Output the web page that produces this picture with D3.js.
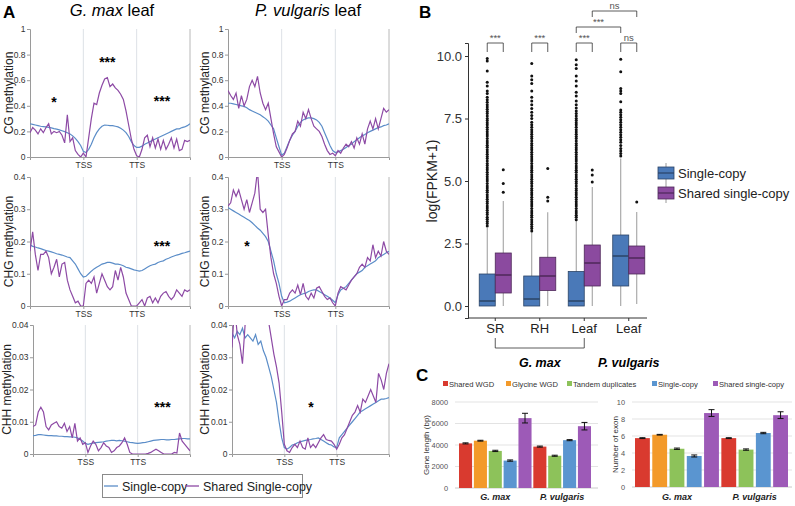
<!DOCTYPE html>
<html>
<head>
<meta charset="utf-8">
<script src="https://cdn.jsdelivr.net/npm/d3@7"></script>
<style>
  body { margin: 0; background: #fff; }
  svg { font-family: "Liberation Sans", Arial, sans-serif; }
</style>
</head>
<body>
<svg id="fig" width="795" height="506"></svg>
<script>
// ---------------------------------------------------------------- panel A data
// bins: 20 upstream, 20 gene body, 20 downstream (TSS at 20, TTS at 40)
const cgMaxSingle = [0.26,0.255,0.25,0.245,0.24,0.238,0.235,0.232,0.228,0.222,0.218,0.212,0.205,0.198,0.19,0.18,0.165,0.145,0.12,0.09,0.045,0.035,0.06,0.1,0.15,0.19,0.22,0.24,0.25,0.248,0.245,0.245,0.24,0.235,0.225,0.21,0.19,0.16,0.12,0.09,0.075,0.075,0.085,0.1,0.11,0.12,0.13,0.14,0.15,0.16,0.17,0.18,0.19,0.2,0.21,0.22,0.22,0.23,0.235,0.245,0.26];
const cgMaxShared = [0.19,0.23,0.21,0.18,0.22,0.19,0.23,0.26,0.18,0.2,0.19,0.2,0.17,0.11,0.33,0.12,0.15,0.05,0.02,0.0,0.03,0.0,0.15,0.3,0.42,0.41,0.5,0.56,0.61,0.62,0.55,0.57,0.54,0.52,0.49,0.45,0.36,0.25,0.14,0.06,0.01,0.0,0.06,0.15,0.17,0.08,0.15,0.07,0.14,0.06,0.13,0.06,0.1,0.15,0.07,0.14,0.05,0.06,0.13,0.12,0.13];
const cgVulSingle = [0.42,0.42,0.415,0.41,0.405,0.4,0.395,0.385,0.37,0.36,0.35,0.34,0.33,0.315,0.3,0.28,0.25,0.22,0.15,0.08,0.015,0.03,0.08,0.13,0.17,0.2,0.24,0.27,0.29,0.3,0.305,0.305,0.3,0.29,0.27,0.24,0.19,0.14,0.09,0.05,0.035,0.04,0.05,0.06,0.075,0.09,0.1,0.12,0.135,0.15,0.165,0.175,0.19,0.2,0.21,0.22,0.23,0.235,0.245,0.25,0.26];
const cgVulShared = [0.52,0.48,0.45,0.5,0.38,0.48,0.4,0.45,0.55,0.6,0.55,0.63,0.5,0.42,0.37,0.42,0.3,0.18,0.08,0.04,0.0,0.02,0.07,0.13,0.18,0.2,0.28,0.24,0.35,0.3,0.37,0.3,0.24,0.22,0.2,0.16,0.1,0.05,0.02,0.03,0.01,0.05,0.03,0.07,0.1,0.08,0.12,0.07,0.15,0.1,0.18,0.1,0.22,0.28,0.22,0.3,0.22,0.3,0.38,0.35,0.37];
const chgMaxSingle = [0.19,0.185,0.183,0.18,0.178,0.175,0.172,0.17,0.168,0.165,0.162,0.16,0.158,0.155,0.152,0.15,0.14,0.13,0.115,0.1,0.09,0.092,0.1,0.108,0.115,0.12,0.125,0.13,0.132,0.135,0.135,0.133,0.13,0.13,0.128,0.125,0.12,0.118,0.115,0.112,0.11,0.108,0.11,0.115,0.12,0.125,0.128,0.13,0.135,0.138,0.14,0.145,0.148,0.152,0.155,0.158,0.16,0.163,0.165,0.168,0.17];
const chgMaxShared = [0.17,0.23,0.16,0.11,0.16,0.16,0.17,0.15,0.1,0.12,0.145,0.09,0.13,0.135,0.08,0.05,0.03,0.01,0.015,0.0,0.0,0.07,0.08,0.07,0.09,0.04,0.07,0.1,0.08,0.06,0.05,0.06,0.11,0.08,0.12,0.09,0.04,0.02,0.0,0.0,0.0,0.01,0.02,0.0,0.025,0.03,0.01,0.025,0.01,0.03,0.04,0.045,0.03,0.02,0.03,0.05,0.04,0.03,0.05,0.045,0.05];
const chgVulSingle = [0.305,0.3,0.295,0.29,0.285,0.28,0.275,0.27,0.265,0.258,0.25,0.242,0.235,0.225,0.215,0.2,0.17,0.14,0.1,0.07,0.03,0.01,0.012,0.015,0.02,0.025,0.03,0.035,0.038,0.04,0.045,0.048,0.05,0.05,0.045,0.04,0.035,0.03,0.025,0.018,0.01,0.035,0.05,0.055,0.06,0.07,0.08,0.09,0.1,0.105,0.11,0.12,0.125,0.13,0.135,0.14,0.15,0.155,0.16,0.165,0.17];
const chgVulShared = [0.31,0.32,0.36,0.34,0.36,0.33,0.3,0.33,0.29,0.32,0.35,0.42,0.3,0.29,0.3,0.22,0.15,0.1,0.07,0.03,0.0,0.02,0.02,0.04,0.05,0.04,0.065,0.035,0.07,0.03,0.02,0.04,0.025,0.055,0.06,0.045,0.03,0.02,0.025,0.01,0.0,0.04,0.06,0.055,0.05,0.065,0.08,0.09,0.1,0.12,0.13,0.12,0.15,0.14,0.19,0.15,0.17,0.155,0.2,0.17,0.16];
const chhMaxSingle = [0.0057,0.0058,0.006,0.006,0.0059,0.0058,0.0057,0.0057,0.0056,0.0056,0.0055,0.0055,0.0054,0.0054,0.0053,0.0053,0.0052,0.005,0.0045,0.004,0.0033,0.003,0.0032,0.0034,0.0035,0.0036,0.0037,0.0038,0.004,0.0041,0.0042,0.0042,0.0041,0.0042,0.0041,0.004,0.0038,0.0036,0.0035,0.0034,0.0033,0.0034,0.0035,0.0036,0.0038,0.004,0.0042,0.0043,0.0044,0.0045,0.0045,0.0044,0.0044,0.0045,0.0045,0.0046,0.0047,0.0048,0.0048,0.0047,0.0047];
const chhMaxShared = [0.0085,0.009,0.013,0.0145,0.013,0.0085,0.0075,0.009,0.0095,0.01,0.0085,0.008,0.0095,0.007,0.0085,0.005,0.0095,0.004,0.005,0.003,0.0035,0.0005,0.0025,0.004,0.003,0.001,0.002,0.0035,0.0025,0.002,0.0005,0.001,0.002,0.0025,0.0035,0.005,0.003,0.0005,0.0,0.0,0.0,0.0,0.0,0.0,0.0002,0.0005,0.001,0.0015,0.001,0.0005,0.0,0.0,0.0,0.0,0.0005,0.0003,0.0065,0.004,0.003,0.002,0.001];
const chhVulSingle = [0.0375,0.036,0.038,0.037,0.039,0.036,0.037,0.036,0.035,0.037,0.034,0.035,0.032,0.03,0.027,0.024,0.02,0.016,0.01,0.005,0.002,0.0015,0.002,0.0028,0.003,0.0035,0.0038,0.004,0.0042,0.0044,0.0045,0.0047,0.0048,0.005,0.0045,0.004,0.0035,0.003,0.0028,0.0022,0.002,0.005,0.006,0.007,0.008,0.009,0.01,0.011,0.012,0.013,0.0135,0.014,0.0145,0.015,0.0155,0.016,0.0165,0.017,0.017,0.0172,0.0175];
const chhVulShared = [0.033,0.046,0.037,0.034,0.028,0.04,0.045,0.042,0.048,0.044,0.05,0.046,0.048,0.045,0.041,0.036,0.031,0.027,0.022,0.013,0.003,0.001,0.0005,0.002,0.003,0.002,0.004,0.002,0.0015,0.005,0.002,0.003,0.002,0.0035,0.005,0.006,0.0045,0.0042,0.004,0.003,0.0015,0.003,0.005,0.006,0.008,0.01,0.012,0.013,0.015,0.013,0.017,0.016,0.018,0.02,0.018,0.016,0.025,0.023,0.02,0.025,0.028];

// ---------------------------------------------------------------- panel B data
const boxGroups = ["SR", "RH", "LeafG", "LeafP"];
const boxLabels = ["SR", "RH", "Leaf", "Leaf"];
const singleStats = [ // [low, q1, median, q3, high]
  [0, 0, 0.2, 1.28, 3.12],
  [0, 0, 0.28, 1.2, 2.95],
  [0, 0, 0.2, 1.38, 3.4],
  [0, 0.8, 2.0, 2.84, 5.9]
];
const sharedStats = [
  [0, 0.52, 1.24, 2.12, 4.2],
  [0, 0.62, 1.2, 1.95, 3.75],
  [0, 0.8, 1.72, 2.44, 4.76],
  [0.08, 1.28, 1.92, 2.4, 3.76]
];
const singleOutliers = [
  [3.2,3.3,3.38,3.47,3.55,3.66,3.74,3.83,3.92,4.0,4.1,4.18,4.27,4.36,4.45,4.55,4.63,4.72,4.8,4.9,5.0,5.08,5.17,5.26,5.35,5.45,5.53,5.62,5.7,5.8,5.9,5.98,6.07,6.16,6.25,6.35,6.43,6.52,6.6,6.7,6.8,6.88,6.97,7.06,7.15,7.25,7.33,7.42,7.5,7.6,7.7,7.78,7.87,7.96,8.05,8.15,8.25,8.35,8.5,8.6,8.8,8.95,9.4,9.8,9.9],
  [3.0,3.1,3.18,3.27,3.36,3.45,3.55,3.63,3.72,3.8,3.9,4.0,4.08,4.17,4.26,4.35,4.45,4.53,4.62,4.7,4.8,4.9,4.98,5.07,5.16,5.25,5.35,5.43,5.52,5.6,5.7,5.8,5.88,5.97,6.06,6.15,6.25,6.33,6.42,6.5,6.6,6.7,6.78,6.87,6.96,7.05,7.15,7.25,7.35,7.5,7.62,7.75,7.9,8.05,8.2,8.35,8.6,8.9,9.05,9.2,9.7],
  [3.45,3.55,3.63,3.72,3.8,3.9,4.0,4.08,4.17,4.26,4.35,4.45,4.53,4.62,4.7,4.8,4.9,4.98,5.07,5.16,5.25,5.35,5.43,5.52,5.6,5.7,5.8,5.88,5.97,6.06,6.15,6.25,6.33,6.42,6.5,6.6,6.7,6.78,6.87,6.96,7.05,7.15,7.25,7.33,7.42,7.5,7.6,7.7,7.8,7.92,8.05,8.2,8.4,8.55,8.8,9.0,9.2,9.5,9.65,9.85],
  [6.0,6.1,6.2,6.3,6.42,6.55,6.65,6.75,6.85,6.95,7.05,7.15,7.25,7.35,7.45,7.55,7.65,7.75,7.84,8.17,8.5,8.6,8.7,9.37,9.87]
];
const sharedOutliers = [
  [4.55, 4.9, 5.45],
  [4.2, 4.35, 5.5],
  [4.96, 5.24, 5.44],
  [4.16]
];
const bTicks = [0, 2.5, 5, 7.5, 10];

// ---------------------------------------------------------------- panel C data
const cGroups = ["G. max", "P. vulgaris"];
const cSeries = ["Shared WGD", "Glycine WGD", "Tandem duplicates", "Single-copy", "Shared single-copy"];
const lengthMax = [4150, 4400, 3450, 2550, 6500];
const lengthMaxErr = [50, 40, 60, 60, 450];
const lengthVul = [3850, null, 3000, 4450, 5750];
const lengthVulErr = [50, null, 50, 50, 350];
const exonMax = [5.75, 6.15, 4.5, 3.65, 8.7];
const exonMaxErr = [0.05, 0.04, 0.08, 0.12, 0.4];
const exonVul = [5.75, null, 4.4, 6.35, 8.45];
const exonVulErr = [0.05, null, 0.08, 0.08, 0.4];
const lengthTicks = [0, 2000, 4000, 6000, 8000];
const exonTicks = [0, 2, 4, 6, 8, 10];

const blue = "#5b8dc8";
const purple = "#8d4aa5";
const seriesColors = ["#d93a2f", "#f39a2a", "#8dc25a", "#5a95d0", "#9d5ab7"];

const svg = d3.select("#fig");

// ---------------------------------------------------------------- panel A
svg.append("text").attr("x", 3).attr("y", 18).attr("font-size", 17).attr("font-weight", "bold").text("A");

const titleA = [["G. max", 112], ["P. vulgaris", 308]];
titleA.forEach(([name, cx]) => {
  const t = svg.append("text").attr("x", cx).attr("y", 16).attr("text-anchor", "middle").attr("font-size", 16.5);
  t.append("tspan").attr("font-style", "italic").text(name);
  t.append("tspan").text(" leaf");
});

const panels = [
  { label: "CG methylation", top: 29, bottom: 157, yMax: 1, ticks: [0, 0.2, 0.4, 0.6, 0.8, 1], fmt: d => d === 0 || d === 1 ? String(d) : d.toFixed(1),
    cols: [
      { x0: 30, x1: 190, labelX: 13, single: cgMaxSingle, shared: cgMaxShared, stars: [["*", 9, 0.387], ["***", 29, 0.70], ["***", 49.5, 0.40]] },
      { x0: 228, x1: 389, labelX: 209, single: cgVulSingle, shared: cgVulShared, stars: [] }
    ] },
  { label: "CHG methylation", top: 177, bottom: 306, yMax: 0.4, ticks: [0, 0.1, 0.2, 0.3, 0.4], fmt: d => d === 0 ? "0" : d.toFixed(1),
    cols: [
      { x0: 30, x1: 190, labelX: 13, single: chgMaxSingle, shared: chgMaxShared, stars: [["***", 49.5, 0.172]] },
      { x0: 228, x1: 389, labelX: 209, single: chgVulSingle, shared: chgVulShared, stars: [["*", 7.1, 0.172]] }
    ] },
  { label: "CHH methylation", top: 325, bottom: 454, yMax: 0.04, ticks: [0, 0.01, 0.02, 0.03, 0.04], fmt: d => d === 0 ? "0" : d.toFixed(2),
    cols: [
      { x0: 33, x1: 190, labelX: 11, single: chhMaxSingle, shared: chhMaxShared, stars: [["***", 49.5, 0.0129]] },
      { x0: 232, x1: 389, labelX: 209, single: chhVulSingle, shared: chhVulShared, stars: [["*", 30.2, 0.0129]] }
    ] }
];

panels.forEach((row, ri) => {
  row.cols.forEach((col, ci) => {
    const x = d3.scaleLinear().domain([0, 60]).range([col.x0, col.x1]);
    const y = d3.scaleLinear().domain([0, row.yMax]).range([row.bottom, row.top]);
    const g = svg.append("g");
    const clipId = `clip-${ri}-${ci}`;
    svg.append("clipPath").attr("id", clipId).append("rect")
      .attr("x", col.x0).attr("y", row.top).attr("width", col.x1 - col.x0).attr("height", row.bottom - row.top);

    // TSS / TTS guides
    g.selectAll("line.guide").data([20, 40]).enter().append("line")
      .attr("x1", d => x(d)).attr("x2", d => x(d)).attr("y1", row.top).attr("y2", row.bottom)
      .style("stroke", "#dde1e6").style("stroke-width", 1);
    // right border
    g.append("line").attr("x1", col.x1).attr("x2", col.x1).attr("y1", row.top).attr("y2", row.bottom)
      .style("stroke", "#b8b8b8");

    const yAxis = d3.axisLeft(y).tickValues(row.ticks).tickSize(3).tickPadding(1.5).tickFormat(row.fmt);
    g.append("g").attr("transform", `translate(${col.x0},0)`).call(yAxis)
      .call(a => a.select(".domain").style("stroke", "#9a9a9a"))
      .call(a => a.selectAll(".tick line").style("stroke", "#9a9a9a"))
      .call(a => a.selectAll("text").style("font-size", "8.5px").style("fill", "#333").style("font-family", "Liberation Sans, Arial"));

    const xAxis = d3.axisBottom(x).tickValues([20, 40]).tickSize(3).tickPadding(2).tickFormat(d => d === 20 ? "TSS" : "TTS");
    g.append("g").attr("transform", `translate(0,${row.bottom})`).call(xAxis)
      .call(a => a.select(".domain").style("stroke", "#9a9a9a"))
      .call(a => a.selectAll(".tick line").style("stroke", "#9a9a9a"))
      .call(a => a.selectAll("text").style("font-size", "8.5px").style("fill", "#333").style("font-family", "Liberation Sans, Arial"));

    const line = d3.line().x((d, i) => x(i)).y(d => y(d));
    g.append("path").datum(col.single).attr("d", line).attr("clip-path", `url(#${clipId})`)
      .style("fill", "none").style("stroke", blue).style("stroke-width", 1.2);
    g.append("path").datum(col.shared).attr("d", line).attr("clip-path", `url(#${clipId})`)
      .style("fill", "none").style("stroke", purple).style("stroke-width", 1.2);

    g.selectAll("text.star").data(col.stars).enter().append("text")
      .attr("class", "star")
      .attr("x", d => x(d[1])).attr("y", d => y(d[2]))
      .attr("text-anchor", "middle").attr("font-size", 14).attr("font-weight", "bold")
      .text(d => d[0]);

    svg.append("text")
      .attr("transform", `translate(${col.labelX},${(row.top + row.bottom) / 2}) rotate(-90)`)
      .attr("text-anchor", "middle").attr("font-size", 12).attr("fill", "#222")
      .text(row.label);
  });
});

// legend A
const legA = svg.append("g");
legA.append("rect").attr("x", 102.5).attr("y", 474.5).attr("width", 200).attr("height", 23)
  .style("fill", "#fff").style("stroke", "#8a8a8a");
[[blue, "Single-copy", 104], [purple, "Shared Single-copy", 185]].forEach(([c, t, lx]) => {
  legA.append("line").attr("x1", lx).attr("x2", lx + 14).attr("y1", 486).attr("y2", 486)
    .style("stroke", c).style("stroke-width", 1.3);
  legA.append("text").attr("x", lx + 18).attr("y", 490.5).attr("font-size", 12.5).attr("fill", "#222").text(t);
});

// ---------------------------------------------------------------- panel B
svg.append("text").attr("x", 419).attr("y", 18).attr("font-size", 17).attr("font-weight", "bold").text("B");

const yB = d3.scaleLinear().domain([-0.48, 10.52]).range([318, 43]);
const xB = d3.scaleBand().domain(boxGroups).range([473, 651]).paddingInner(0.28).paddingOuter(0.14);
const gB = svg.append("g");

const yAxisB = d3.axisLeft(yB).tickValues(bTicks).tickSize(3).tickFormat(d3.format(".1f"));
gB.append("g").attr("transform", "translate(468,0)").call(yAxisB)
  .call(a => a.select(".domain").style("stroke", "#333"))
  .call(a => a.selectAll(".tick line").style("stroke", "#333"))
  .call(a => a.selectAll("text").style("font-size", "13px").style("fill", "#333").style("font-family", "Liberation Sans, Arial"));

gB.append("line").attr("x1", 468).attr("x2", 647).attr("y1", 318).attr("y2", 318).style("stroke", "#333");
const xAxisB = d3.axisBottom(xB).tickSize(3).tickFormat((d, i) => boxLabels[i]);
gB.append("g").attr("transform", "translate(0,318)").call(xAxisB)
  .call(a => a.select(".domain").remove())
  .call(a => a.selectAll(".tick line").style("stroke", "#333"))
  .call(a => a.selectAll("text").style("font-size", "13px").style("fill", "#222").style("font-family", "Liberation Sans, Arial"));

svg.append("text").attr("transform", "translate(437,181) rotate(-90)")
  .attr("text-anchor", "middle").attr("font-size", 14).attr("fill", "#222").text("log(FPKM+1)");

const bw = xB.bandwidth() / 2;
function drawBoxes(stats, outliers, offset, fill, stroke) {
  boxGroups.forEach((grp, i) => {
    const s = stats[i];
    const cx = xB(grp) + offset + bw / 2;
    gB.append("line").attr("x1", cx).attr("x2", cx).attr("y1", yB(s[0])).attr("y2", yB(s[4]))
      .style("stroke", "#9a9a9a").style("stroke-width", 1);
    gB.append("rect").attr("x", xB(grp) + offset).attr("y", yB(s[3]))
      .attr("width", bw).attr("height", yB(s[1]) - yB(s[3]))
      .style("fill", fill).style("stroke", stroke).style("stroke-width", 0.8);
    gB.append("line").attr("x1", xB(grp) + offset).attr("x2", xB(grp) + offset + bw)
      .attr("y1", yB(s[2])).attr("y2", yB(s[2])).style("stroke", stroke).style("stroke-width", 1.5);
    gB.selectAll(null).data(outliers[i]).enter().append("circle")
      .attr("cx", cx).attr("cy", d => yB(d)).attr("r", 1.5).style("fill", "#111");
  });
}
drawBoxes(singleStats, singleOutliers, 0, "#4a79b8", "#2b4466");
drawBoxes(sharedStats, sharedOutliers, bw, "#8b4a9f", "#4e2859");

// significance brackets
const brackets = [
  ["SR", 0, "SR", 1, 43, 52, "***"],
  ["RH", 0, "RH", 1, 43, 52, "***"],
  ["LeafG", 0, "LeafG", 1, 43, 52, "***"],
  ["LeafP", 0, "LeafP", 1, 43, 52, "ns"],
  ["LeafG", 0, "LeafP", 0, 27, 33, "***"],
  ["LeafG", 1, "LeafP", 1, 11, 17, "ns"]
];
brackets.forEach(([g1, s1, g2, s2, yTop, yEnd, lab]) => {
  const xa = xB(g1) + s1 * bw + bw / 2;
  const xb = xB(g2) + s2 * bw + bw / 2;
  gB.append("path").attr("d", `M${xa},${yEnd}V${yTop}H${xb}V${yEnd}`)
    .style("fill", "none").style("stroke", "#333").style("stroke-width", 0.8);
  gB.append("text").attr("x", (xa + xb) / 2).attr("y", yTop - 2.5).attr("text-anchor", "middle")
    .attr("font-size", 9.5).attr("fill", "#555").text(lab);
});

// species bracket under x axis
const xs1 = xB("SR") + bw, xs2 = xB("LeafG") + bw;
gB.append("path").attr("d", `M${xs1},338V348H${xs2}V338`).style("fill", "none").style("stroke", "#333").style("stroke-width", 0.8);
gB.append("text").attr("x", (xs1 + xs2) / 2).attr("y", 367).attr("text-anchor", "middle")
  .attr("font-size", 12.5).attr("font-weight", "bold").attr("font-style", "italic").text("G. max");
gB.append("text").attr("x", xB("LeafP") + bw).attr("y", 367).attr("text-anchor", "middle")
  .attr("font-size", 12.5).attr("font-weight", "bold").attr("font-style", "italic").text("P. vulgaris");

// legend B
[["Single-copy", "#4a79b8", "#2b4466", 173], ["Shared single-copy", "#8b4a9f", "#4e2859", 193]].forEach(([t, f, s, ly]) => {
  gB.append("line").attr("x1", 666).attr("x2", 666).attr("y1", ly - 10).attr("y2", ly + 10).style("stroke", "#9a9a9a");
  gB.append("rect").attr("x", 658).attr("y", ly - 6).attr("width", 16).attr("height", 12)
    .style("fill", f).style("stroke", s).style("stroke-width", 0.8);
  gB.append("line").attr("x1", 658).attr("x2", 674).attr("y1", ly).attr("y2", ly).style("stroke", s).style("stroke-width", 1.2);
  gB.append("text").attr("x", 678).attr("y", ly + 4.5).attr("font-size", 13).attr("fill", "#222").text(t);
});

// ---------------------------------------------------------------- panel C
svg.append("text").attr("x", 416).attr("y", 381).attr("font-size", 17).attr("font-weight", "bold").text("C");

const legXs = [443, 506, 567, 652, 713];
cSeries.forEach((s, i) => {
  svg.append("rect").attr("x", legXs[i]).attr("y", 381).attr("width", 5).attr("height", 5).style("fill", seriesColors[i]);
  svg.append("text").attr("x", legXs[i] + 6).attr("y", 386.5).attr("font-size", 7.6).attr("fill", "#333").text(s);
});

function drawBars(cfg) {
  const keys = [];
  cGroups.forEach((gname, gi) => {
    const vals = gi === 0 ? cfg.maxVals : cfg.vulVals;
    const errs = gi === 0 ? cfg.maxErr : cfg.vulErr;
    vals.forEach((v, si) => { if (v !== null) keys.push({ key: gi + "-" + si, group: gi, series: si, value: v, err: errs[si] }); });
  });
  const x = d3.scaleBand().domain(keys.map(d => d.key)).range(cfg.barRange).paddingInner(cfg.pad).paddingOuter(0);
  const y = d3.scaleLinear().domain([0, cfg.yMax]).range([cfg.bottom, cfg.top]);
  const g = svg.append("g");

  g.selectAll("line.grid").data(cfg.ticks).enter().append("line")
    .attr("x1", cfg.gridX[0]).attr("x2", cfg.gridX[1]).attr("y1", d => y(d)).attr("y2", d => y(d))
    .style("stroke", d => d === 0 ? "#bdbdbd" : "#dcdcdc").style("stroke-width", 0.8);
  g.selectAll("text.tick").data(cfg.ticks).enter().append("text")
    .attr("x", cfg.gridX[0] - 7).attr("y", d => y(d) + 2.5).attr("text-anchor", "end")
    .attr("font-size", 7.4).attr("fill", "#555").text(d => d);

  g.selectAll("rect.bar").data(keys).enter().append("rect")
    .attr("x", d => x(d.key)).attr("y", d => y(d.value))
    .attr("width", x.bandwidth()).attr("height", d => y(0) - y(d.value))
    .style("fill", d => seriesColors[d.series]);

  keys.forEach(d => {
    const cx = x(d.key) + x.bandwidth() / 2;
    const y1 = y(d.value + d.err), y2 = y(d.value - d.err);
    g.append("path").attr("d", `M${cx - 3},${y1}H${cx + 3}M${cx},${y1}V${y2}M${cx - 3},${y2}H${cx + 3}`)
      .style("fill", "none").style("stroke", "#111").style("stroke-width", 1);
  });

  cGroups.forEach((gname, gi) => {
    const ks = keys.filter(d => d.group === gi);
    const cx = (x(ks[0].key) + x(ks[ks.length - 1].key) + x.bandwidth()) / 2;
    g.append("text").attr("x", cx).attr("y", 500).attr("text-anchor", "middle")
      .attr("font-size", 9).attr("font-weight", "bold").attr("font-style", "italic").attr("fill", "#222").text(gname);
  });

  svg.append("text").attr("transform", `translate(${cfg.labelX},${(cfg.top + cfg.bottom) / 2}) rotate(-90)`)
    .attr("text-anchor", "middle").attr("font-size", 8).attr("fill", "#333").text(cfg.label);
}

drawBars({ maxVals: lengthMax, maxErr: lengthMaxErr, vulVals: lengthVul, vulErr: lengthVulErr,
  barRange: [459, 591], pad: 0.12, yMax: 8000, ticks: lengthTicks, top: 402, bottom: 488,
  gridX: [455, 598], label: "Gene length (bp)", labelX: 429 });
drawBars({ maxVals: exonMax, maxErr: exonMaxErr, vulVals: exonVul, vulErr: exonVulErr,
  barRange: [635, 788], pad: 0.14, yMax: 10, ticks: exonTicks, top: 402, bottom: 487,
  gridX: [632, 792], label: "Number of exon", labelX: 618 });
</script>
</body>
</html>
